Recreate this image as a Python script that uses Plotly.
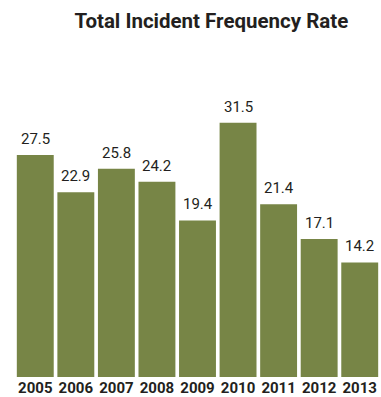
import plotly.graph_objects as go

years = ["2005", "2006", "2007", "2008", "2009", "2010", "2011", "2012", "2013"]
rates = [27.5, 22.9, 25.8, 24.2, 19.4, 31.5, 21.4, 17.1, 14.2]

BAR = "#778546"
TXT = "#231f20"
FONT = "Roboto, sans-serif"

fig = go.Figure()
fig.add_trace(go.Bar(x=years, y=rates, marker=dict(color=BAR, line=dict(width=0)),
                     hoverinfo="x+y"))

for i, v in enumerate(rates):
    fig.add_annotation(x=i, y=v, xref="x", yref="y", text=f"{v:.1f}", showarrow=False,
                       yanchor="bottom", yshift=5,
                       font=dict(family=FONT, size=15, color=TXT))

fig.update_layout(
    width=381, height=397,
    margin=dict(l=15, r=1, t=59, b=20),
    paper_bgcolor="white", plot_bgcolor="white",
    bargap=0.09,
    showlegend=False,
    title=dict(text="<b>Total Incident Frequency Rate</b>", x=0.538, xanchor="center",
               y=0.948, yanchor="middle", xref="paper",
               font=dict(family=FONT, size=20.5, color=TXT)),
    xaxis=dict(type="category", categoryorder="array", categoryarray=years,
               range=[-0.5, len(years) - 0.5],
               showgrid=False, showline=False, zeroline=False,
               ticks="", tickangle=0, automargin=False,
               tickfont=dict(family=FONT, size=15, color=TXT, weight="bold"),
               ticklabelstandoff=0),
    yaxis=dict(range=[0, 39.4], visible=False),
)
fig.write_html("out.html", config={"displayModeBar": False},
               post_script="document.body.style.margin='0';")
